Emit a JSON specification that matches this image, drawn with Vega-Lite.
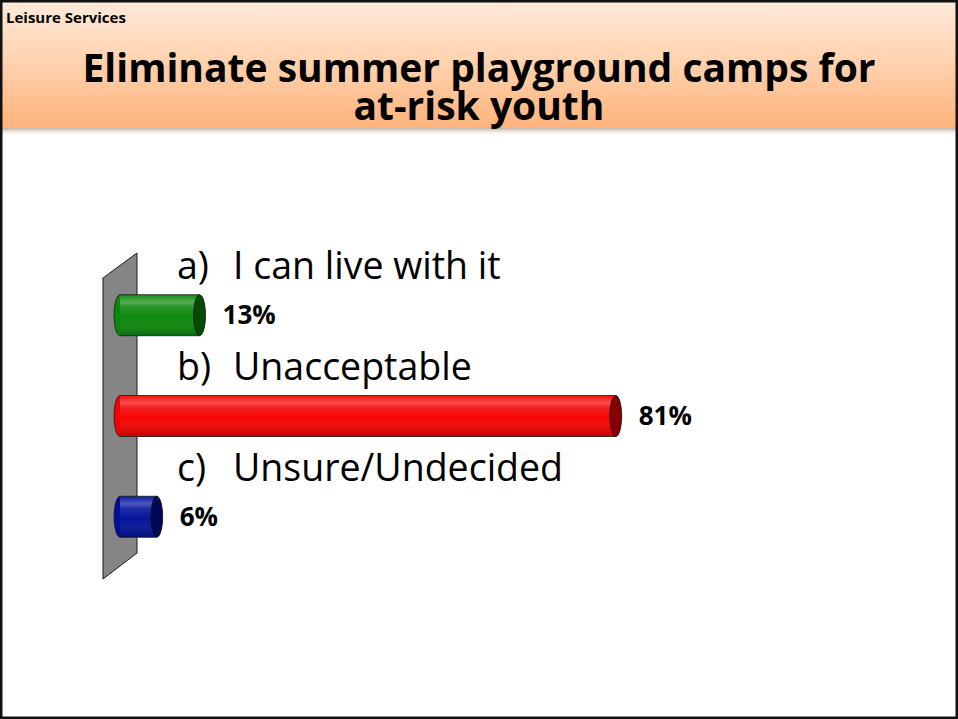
{
  "$schema": "https://vega.github.io/schema/vega-lite/v6.json",
  "width": 958,
  "height": 719,
  "autosize": {"type": "none"},
  "padding": 0,
  "background": "white",
  "config": {"view": {"stroke": null}},
  "datasets": {
    "responses": [
      {"option": "a)", "answer": "I can live with it", "pct": 13, "label": "13%"},
      {"option": "b)", "answer": "Unacceptable", "pct": 81, "label": "81%"},
      {"option": "c)", "answer": "Unsure/Undecided", "pct": 6, "label": "6%"}
    ],
    "slide": [
      {"header": "Leisure Services", "title": "Eliminate summer playground camps for\nat-risk youth"}
    ]
  },
  "layer": [
    {
      "data": {"name": "slide"},
      "mark": {"type": "rect", "fill": {"gradient": "linear", "x1": 0, "y1": 0, "x2": 0, "y2": 1, "stops": [{"offset": 0, "color": "#fdeadb"}, {"offset": 0.45, "color": "#fed4b2"}, {"offset": 1, "color": "#ffb37c"}]}},
      "encoding": {"x": {"value": 0}, "x2": {"value": "width"}, "y": {"value": 0}, "y2": {"value": 128}}
    },
    {
      "data": {"name": "slide"},
      "mark": {"type": "rect", "fill": {"gradient": "linear", "x1": 0, "y1": 0, "x2": 0, "y2": 1, "stops": [{"offset": 0, "color": "rgba(150,110,80,0.55)"}, {"offset": 1, "color": "rgba(200,200,200,0)"}]}},
      "encoding": {"x": {"value": 0}, "x2": {"value": "width"}, "y": {"value": 128}, "y2": {"value": 135}}
    },
    {
      "data": {"name": "slide"},
      "mark": {"type": "text", "align": "left", "baseline": "alphabetic", "font": "Open Sans", "fontWeight": "bold", "fontSize": 15, "color": "black"},
      "encoding": {"x": {"value": 6}, "y": {"value": 23}, "text": {"field": "header"}}
    },
    {
      "data": {"name": "slide"},
      "mark": {"type": "text", "align": "center", "baseline": "alphabetic", "font": "Open Sans", "fontWeight": "bold", "fontSize": 39, "lineHeight": 38, "lineBreak": "\n", "color": "black"},
      "encoding": {"x": {"value": 479}, "y": {"value": 82}, "text": {"field": "title"}}
    },
    {
      "data": {"name": "slide"},
      "mark": {"type": "point", "shape": "M0.1043,-1L-0.1043,-0.8466L-0.1043,1L0.1043,0.8405Z", "size": 106276, "filled": true, "fill": "#858585", "stroke": "#1a1a1a", "strokeWidth": 1, "opacity": 1},
      "encoding": {
        "x": {"datum": 0, "type": "quantitative", "scale": {"domain": [-19.608, 136.928], "nice": false, "zero": false}, "axis": null},
        "y": {"value": 416}
      }
    },
    {
      "data": {"name": "responses"},
      "mark": {"type": "point", "shape": "M0,-1C0.16,-1,0.29,-0.5523,0.29,0C0.29,0.5523,0.16,1,0,1C-0.16,1,-0.29,0.5523,-0.29,0C-0.29,-0.5523,-0.16,-1,0,-1Z", "size": 1681, "filled": true, "opacity": 1, "stroke": "#1a1a1a", "strokeWidth": 0.8},
      "encoding": {
        "x": {"datum": 0, "type": "quantitative"},
        "y": {"field": "option", "type": "nominal", "scale": {"domain": ["a)", "b)", "c)"], "range": [235, 597], "paddingInner": 0.593, "paddingOuter": 0.593}, "axis": null},
        "color": {"field": "option", "type": "nominal", "scale": {"domain": ["a)", "b)", "c)"], "range": ["#0a880a", "#f50000", "#00109a"]}, "legend": null}
      }
    },
    {
      "data": {"name": "responses"},
      "mark": {"type": "bar", "opacity": 1},
      "encoding": {
        "x": {"field": "pct", "type": "quantitative"},
        "x2": {"datum": 0},
        "y": {"field": "option", "type": "nominal"},
        "color": {"field": "option", "type": "nominal", "legend": null}
      }
    },
    {
      "data": {"name": "responses"},
      "mark": {"type": "bar", "fill": {"gradient": "linear", "x1": 0, "y1": 0, "x2": 0, "y2": 1, "stops": [{"offset": 0, "color": "rgba(255,255,255,0.05)"}, {"offset": 0.18, "color": "rgba(255,255,255,0.3)"}, {"offset": 0.3, "color": "rgba(255,255,255,0.12)"}, {"offset": 0.55, "color": "rgba(255,255,255,0.02)"}, {"offset": 1, "color": "rgba(0,0,0,0.22)"}]}},
      "encoding": {
        "x": {"field": "pct", "type": "quantitative"},
        "x2": {"datum": 0},
        "y": {"field": "option", "type": "nominal"}
      }
    },
    {
      "data": {"name": "responses"},
      "mark": {"type": "rule", "stroke": "#1a1a1a", "strokeWidth": 0.8, "yOffset": -20.5},
      "encoding": {
        "x": {"field": "pct", "type": "quantitative"},
        "x2": {"datum": 0},
        "y": {"field": "option", "type": "nominal"}
      }
    },
    {
      "data": {"name": "responses"},
      "mark": {"type": "rule", "stroke": "#1a1a1a", "strokeWidth": 0.8, "yOffset": 20.5},
      "encoding": {
        "x": {"field": "pct", "type": "quantitative"},
        "x2": {"datum": 0},
        "y": {"field": "option", "type": "nominal"}
      }
    },
    {
      "data": {"name": "responses"},
      "mark": {"type": "point", "shape": "M0,-1C0.16,-1,0.29,-0.5523,0.29,0C0.29,0.5523,0.16,1,0,1C-0.16,1,-0.29,0.5523,-0.29,0C-0.29,-0.5523,-0.16,-1,0,-1Z", "size": 1681, "filled": true, "opacity": 1, "stroke": "#1a1a1a", "strokeWidth": 0.8},
      "encoding": {
        "x": {"field": "pct", "type": "quantitative"},
        "y": {"field": "option", "type": "nominal"},
        "color": {"field": "option", "type": "nominal", "legend": null}
      }
    },
    {
      "data": {"name": "responses"},
      "mark": {"type": "point", "shape": "M0,-1C0.16,-1,0.29,-0.5523,0.29,0C0.29,0.5523,0.16,1,0,1C-0.16,1,-0.29,0.5523,-0.29,0C-0.29,-0.5523,-0.16,-1,0,-1Z", "size": 1681, "filled": true, "fill": "black", "opacity": 0.45},
      "encoding": {
        "x": {"field": "pct", "type": "quantitative"},
        "y": {"field": "option", "type": "nominal"}
      }
    },
    {
      "data": {"name": "responses"},
      "mark": {"type": "text", "align": "left", "baseline": "middle", "dx": 23, "dy": 1, "font": "Open Sans", "fontWeight": "bold", "fontSize": 26, "color": "black"},
      "encoding": {
        "x": {"field": "pct", "type": "quantitative"},
        "y": {"field": "option", "type": "nominal"},
        "text": {"field": "label"}
      }
    },
    {
      "data": {"name": "responses"},
      "mark": {"type": "text", "align": "left", "baseline": "alphabetic", "dx": 57, "dy": -36, "font": "Open Sans", "fontSize": 37.5, "color": "black"},
      "encoding": {
        "x": {"datum": 0, "type": "quantitative"},
        "y": {"field": "option", "type": "nominal"},
        "text": {"field": "option"}
      }
    },
    {
      "data": {"name": "responses"},
      "mark": {"type": "text", "align": "left", "baseline": "alphabetic", "dx": 113, "dy": -36, "font": "Open Sans", "fontSize": 37.5, "color": "black"},
      "encoding": {
        "x": {"datum": 0, "type": "quantitative"},
        "y": {"field": "option", "type": "nominal"},
        "text": {"field": "answer"}
      }
    },
    {
      "data": {"name": "slide"},
      "mark": {"type": "rect", "fill": "transparent", "stroke": "#111111", "strokeWidth": 5},
      "encoding": {"x": {"value": 0}, "x2": {"value": "width"}, "y": {"value": 0}, "y2": {"value": "height"}}
    }
  ]
}
